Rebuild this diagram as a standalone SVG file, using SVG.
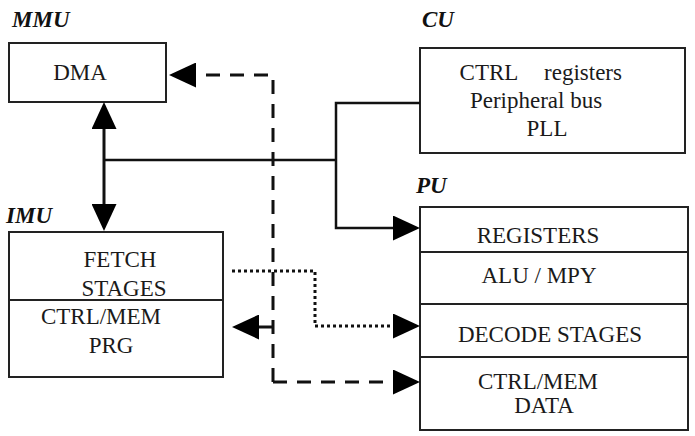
<svg xmlns="http://www.w3.org/2000/svg" width="695" height="436" viewBox="0 0 695 436">
<style>
  .box{fill:#fff;stroke:#222;stroke-width:2}
  .div{stroke:#222;stroke-width:2}
  .t{font-family:'Liberation Serif','Times New Roman',serif;font-size:23px;fill:#1a1a1a;text-anchor:middle}
  .lbl{font-family:'Liberation Serif','Times New Roman',serif;font-size:23px;font-weight:bold;font-style:italic;fill:#111}
  .solid{fill:none;stroke:#111;stroke-width:2.5}
  .dash{fill:none;stroke:#111;stroke-width:3;stroke-dasharray:14 10}
  .dot{fill:none;stroke:#111;stroke-width:3;stroke-dasharray:3 3}
</style>
<defs>
  <marker id="ah" viewBox="0 0 27 25" refX="0" refY="12.5" markerWidth="27" markerHeight="25" markerUnits="userSpaceOnUse" orient="auto-start-reverse">
    <path d="M0,0 L27,12.5 L0,25 Z" fill="#000"/>
  </marker>
</defs>
<rect width="695" height="436" fill="#fff"/>

<g id="MMU">
  <text class="lbl" x="12" y="27">MMU</text>
  <rect class="box" x="9" y="43" width="157" height="59"/>
  <text class="t" x="80" y="80">DMA</text>
</g>

<g id="CU">
  <text class="lbl" x="422" y="27">CU</text>
  <rect class="box" x="420" y="48" width="265" height="105"/>
  <text class="t" x="489" y="80">CTRL</text>
  <text class="t" x="583" y="80">registers</text>
  <text class="t" x="536" y="108">Peripheral bus</text>
  <text class="t" x="547" y="136">PLL</text>
</g>

<g id="IMU">
  <text class="lbl" x="6" y="223">IMU</text>
  <rect class="box" x="9" y="232" width="214" height="145"/>
  <line class="div" x1="9" y1="300" x2="223" y2="300"/>
  <text class="t" x="120" y="267">FETCH</text>
  <text class="t" x="124" y="296">STAGES</text>
  <text class="t" x="101" y="324">CTRL/MEM</text>
  <text class="t" x="111" y="353">PRG</text>
</g>

<g id="PU">
  <text class="lbl" x="416" y="193">PU</text>
  <rect class="box" x="420" y="207" width="268" height="223"/>
  <line class="div" x1="420" y1="252" x2="688" y2="252"/>
  <line class="div" x1="420" y1="304" x2="688" y2="304"/>
  <line class="div" x1="420" y1="357" x2="688" y2="357"/>
  <text class="t" x="538" y="243">REGISTERS</text>
  <text class="t" x="539" y="283">ALU / MPY</text>
  <text class="t" x="550" y="342">DECODE STAGES</text>
  <text class="t" x="538" y="389">CTRL/MEM</text>
  <text class="t" x="544" y="413">DATA</text>
</g>

<g id="connectors">
  <path class="solid" style="stroke-width:3" d="M104,129 L104,204" marker-start="url(#ah)" marker-end="url(#ah)"/>
  <path class="solid" d="M104,160 L336,160"/>
  <path class="solid" d="M420,103 L336,103 L336,228 L393,228" marker-end="url(#ah)"/>
  <path class="dash" d="M273,382 L273,75 L196,75" marker-end="url(#ah)"/>
  <path class="dash" d="M273,382 L393,382" marker-end="url(#ah)"/>
  <path class="dash" d="M273,327 L259,327" marker-end="url(#ah)"/>
  <path class="dot" d="M232,271 L315,271 L315,326 L393,326" marker-end="url(#ah)"/>
</g>
</svg>
